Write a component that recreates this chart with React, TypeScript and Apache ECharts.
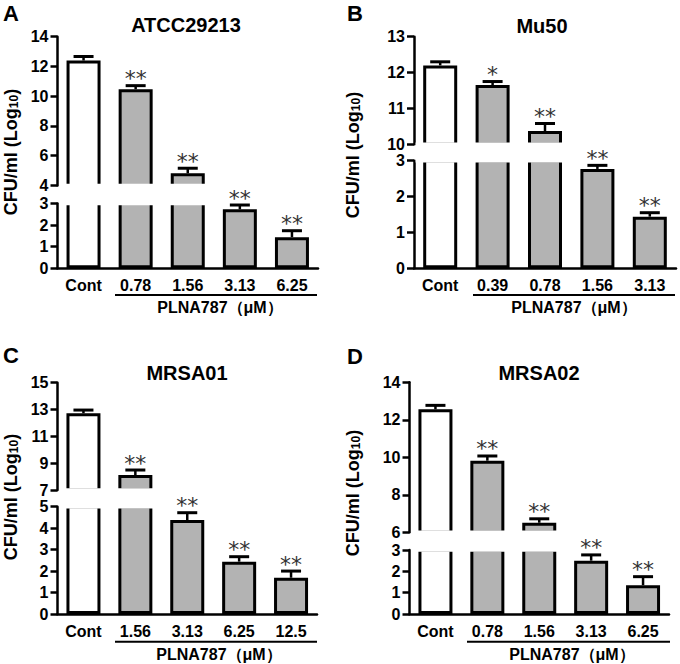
import React, { useEffect, useRef } from "react";
import * as echarts from "echarts";

// ---- data ----
const panelLetters = ["A", "B", "C", "D"];
const panelTitles = ["ATCC29213", "Mu50", "MRSA01", "MRSA02"];

const catsA = ["Cont", "0.78", "1.56", "3.13", "6.25"];
const catsB = ["Cont", "0.39", "0.78", "1.56", "3.13"];
const catsC = ["Cont", "1.56", "3.13", "6.25", "12.5"];
const catsD = ["Cont", "0.78", "1.56", "3.13", "6.25"];

const meanA = [12.4, 10.47, 4.82, 2.73, 1.44];
const errA = [0.27, 0.24, 0.34, 0.2, 0.3];
const meanB = [12.2, 11.65, 10.37, 2.77, 1.44];
const errB = [0.1, 0.1, 0.21, 0.1, 0.11];
const meanC = [12.72, 8.11, 4.38, 2.44, 1.69];
const errC = [0.24, 0.38, 0.34, 0.23, 0.31];
const meanD = [12.56, 9.82, 6.51, 2.5, 1.35];
const errD = [0.21, 0.25, 0.21, 0.27, 0.4];

const starsA = ["", "**", "**", "**", "**"];
const starsB = ["", "*", "**", "**", "**"];
const starsC = ["", "**", "**", "**", "**"];
const starsD = ["", "**", "**", "**", "**"];

const upperTicksA = [4, 6, 8, 10, 12, 14];
const lowerTicksA = [0, 1, 2, 3];
const upperTicksB = [10, 11, 12, 13];
const lowerTicksB = [0, 1, 2, 3];
const upperTicksC = [7, 9, 11, 13, 15];
const lowerTicksC = [0, 1, 2, 3, 4, 5];
const upperTicksD = [6, 8, 10, 12, 14];
const lowerTicksD = [0, 1, 2, 3];

const groupLabel = "PLNA787（μM）";
const yAxisName = "CFU/ml (Log{sub|10})";

// ---- style / layout ----
const FONT = "Liberation Sans, Arial, sans-serif";
const GRAY = "#b3b3b3";
const STAR = "#333333";

const layouts = [
  { left: 57.5, width: 260.5, uTop: 36.7, uBot: 185.5, lTop: 203.5, lBot: 268.3, letterX: 3, letterY: 13, titleX: 186, titleY: 25, yNameX: 11, yNameY: 152, lineX1: 115, lineX2: 317, lineY: 295, groupX: 220, groupY: 307 },
  { left: 414, width: 262, uTop: 36.7, uBot: 144.3, lTop: 160.7, lBot: 268.3, letterX: 347, letterY: 13, titleX: 542, titleY: 26, yNameX: 352.5, yNameY: 155, lineX1: 473, lineX2: 675, lineY: 295, groupX: 574, groupY: 307 },
  { left: 57.5, width: 259.5, uTop: 382.7, uBot: 490, lTop: 506.7, lBot: 614, letterX: 3, letterY: 355, titleX: 187, titleY: 372.5, yNameX: 11, yNameY: 497, lineX1: 115, lineX2: 317, lineY: 641.7, groupX: 219, groupY: 654 },
  { left: 409.5, width: 259.5, uTop: 382.3, uBot: 532.3, lTop: 550, lBot: 614, letterX: 347, letterY: 356.5, titleX: 539, titleY: 372.5, yNameX: 352.5, yNameY: 493, lineX1: 467, lineX2: 670, lineY: 641.7, groupX: 572, groupY: 654 },
];

const panels = [
  { cats: catsA, mean: meanA, err: errA, stars: starsA, uTicks: upperTicksA, lTicks: lowerTicksA },
  { cats: catsB, mean: meanB, err: errB, stars: starsB, uTicks: upperTicksB, lTicks: lowerTicksB },
  { cats: catsC, mean: meanC, err: errC, stars: starsC, uTicks: upperTicksC, lTicks: lowerTicksC },
  { cats: catsD, mean: meanD, err: errD, stars: starsD, uTicks: upperTicksD, lTicks: lowerTicksD },
];

function buildOption() {
  const grid: any[] = [];
  const xAxis: any[] = [];
  const yAxis: any[] = [];
  const series: any[] = [];
  const graphic: any[] = [];

  panels.forEach((p, i) => {
    const L = layouts[i];
    const uMin = p.uTicks[0];
    const uMax = p.uTicks[p.uTicks.length - 1];
    const lMin = p.lTicks[0];
    const lMax = p.lTicks[p.lTicks.length - 1];

    grid.push({ left: L.left, top: L.uTop, width: L.width, height: L.uBot - L.uTop });
    grid.push({ left: L.left, top: L.lTop, width: L.width, height: L.lBot - L.lTop });

    xAxis.push({ type: "category", gridIndex: 2 * i, data: p.cats, show: false });
    xAxis.push({
      type: "category",
      gridIndex: 2 * i + 1,
      data: p.cats,
      axisLine: { show: true, lineStyle: { color: "#000", width: 2.5 } },
      axisTick: { show: false },
      axisLabel: { color: "#000", fontSize: 16, fontWeight: "bold", fontFamily: FONT, margin: 9, interval: 0 },
    });

    const yCommon = (ticks: number[]) => ({
      type: "value",
      axisLine: { show: true, lineStyle: { color: "#000", width: 2.5 } },
      axisTick: { show: true, length: 7, lineStyle: { color: "#000", width: 2.5 }, customValues: ticks },
      axisLabel: { color: "#000", fontSize: 16, fontWeight: "bold", fontFamily: FONT, margin: 9, customValues: ticks },
      splitLine: { show: false },
    });
    yAxis.push({ ...yCommon(p.uTicks), gridIndex: 2 * i, min: uMin, max: uMax });
    yAxis.push({ ...yCommon(p.lTicks), gridIndex: 2 * i + 1, min: lMin, max: lMax });

    const barData = (filterMin: number) =>
      p.mean.map((v, j) =>
        v > filterMin ? { value: v, itemStyle: { color: j === 0 ? "#fff" : GRAY } } : "-"
      );

    const barBase = {
      type: "bar",
      barWidth: 34,
      itemStyle: { borderColor: "#000", borderWidth: 3 },
      clip: true,
      z: 2,
    };
    series.push({ ...barBase, xAxisIndex: 2 * i, yAxisIndex: 2 * i, data: barData(uMin) });
    series.push({ ...barBase, xAxisIndex: 2 * i + 1, yAxisIndex: 2 * i + 1, data: barData(lMin - 1) });

    const stars = p.stars;
    const renderItem = (params: any, api: any) => {
      const j = api.value(0);
      const m = api.value(1);
      const e = api.value(2);
      const base = api.coord([j, m]);
      const top = api.coord([j, m + e]);
      const children: any[] = [
        { type: "line", shape: { x1: base[0], y1: base[1], x2: top[0], y2: top[1] }, style: { stroke: "#000", lineWidth: 2.5 } },
        { type: "line", shape: { x1: top[0] - 10, y1: top[1], x2: top[0] + 10, y2: top[1] }, style: { stroke: "#000", lineWidth: 3 } },
      ];
      if (stars[j]) {
        children.push({
          type: "text",
          x: top[0],
          y: top[1] - 7,
          style: { text: stars[j], align: "center", verticalAlign: "middle", fontSize: 22, fontFamily: "DejaVu Sans", fill: STAR },
        });
      }
      return { type: "group", children };
    };
    const upperErr: any[] = [];
    const lowerErr: any[] = [];
    p.mean.forEach((v, j) => {
      if (v > uMin) upperErr.push([j, v, p.err[j]]);
      else lowerErr.push([j, v, p.err[j]]);
    });
    const customBase = { type: "custom", renderItem, z: 100, encode: { x: 0, y: 1 }, itemStyle: { color: STAR } };
    series.push({ ...customBase, xAxisIndex: 2 * i, yAxisIndex: 2 * i, data: upperErr });
    series.push({ ...customBase, xAxisIndex: 2 * i + 1, yAxisIndex: 2 * i + 1, data: lowerErr });

    // white gap of the broken axis
    graphic.push({
      type: "rect",
      z: 50,
      shape: { x: L.left + 1.6, y: L.uBot - 1.8, width: L.width + 4, height: L.lTop - L.uBot + 3.6 },
      style: { fill: "#fff" },
    });
    // panel letter
    graphic.push({
      type: "text",
      x: L.letterX,
      y: L.letterY,
      z: 60,
      style: { text: panelLetters[i], fontSize: 22, fontWeight: "bold", fontFamily: FONT, fill: "#000", align: "left", verticalAlign: "middle" },
    });
    // title
    graphic.push({
      type: "text",
      x: L.titleX,
      y: L.titleY,
      z: 60,
      style: { text: panelTitles[i], fontSize: 20, fontWeight: "bold", fontFamily: FONT, fill: "#000", align: "center", verticalAlign: "middle" },
    });
    // y axis name
    graphic.push({
      type: "text",
      x: L.yNameX,
      y: L.yNameY,
      z: 60,
      rotation: Math.PI / 2,
      style: {
        text: yAxisName,
        fontSize: 18,
        fontWeight: "bold",
        fontFamily: FONT,
        fill: "#000",
        align: "center",
        verticalAlign: "middle",
        rich: {
          sub: { fontSize: 12, fontWeight: "bold", fontFamily: FONT, fill: "#000", verticalAlign: "bottom", lineHeight: 12 },
        },
      },
    });
    // group underline
    graphic.push({
      type: "line",
      z: 60,
      shape: { x1: L.lineX1, y1: L.lineY, x2: L.lineX2, y2: L.lineY },
      style: { stroke: "#000", lineWidth: 2 },
    });
    // group label
    graphic.push({
      type: "text",
      x: L.groupX,
      y: L.groupY,
      z: 60,
      style: { text: groupLabel, fontSize: 16, fontWeight: "bold", fontFamily: FONT, fill: "#000", align: "center", verticalAlign: "middle" },
    });
  });

  return {
    animation: false,
    backgroundColor: "#fff",
    grid,
    xAxis,
    yAxis,
    series,
    graphic,
  };
}

export default function App() {
  const ref = useRef<HTMLDivElement>(null);
  useEffect(() => {
    if (!ref.current) return;
    const chart = echarts.init(ref.current, undefined, { renderer: "svg" });
    chart.setOption(buildOption() as any);
    return () => chart.dispose();
  }, []);
  return (
    <div
      ref={ref}
      style={{ position: "absolute", left: 0, top: 0, width: 680, height: 664, background: "#fff" }}
    />
  );
}
